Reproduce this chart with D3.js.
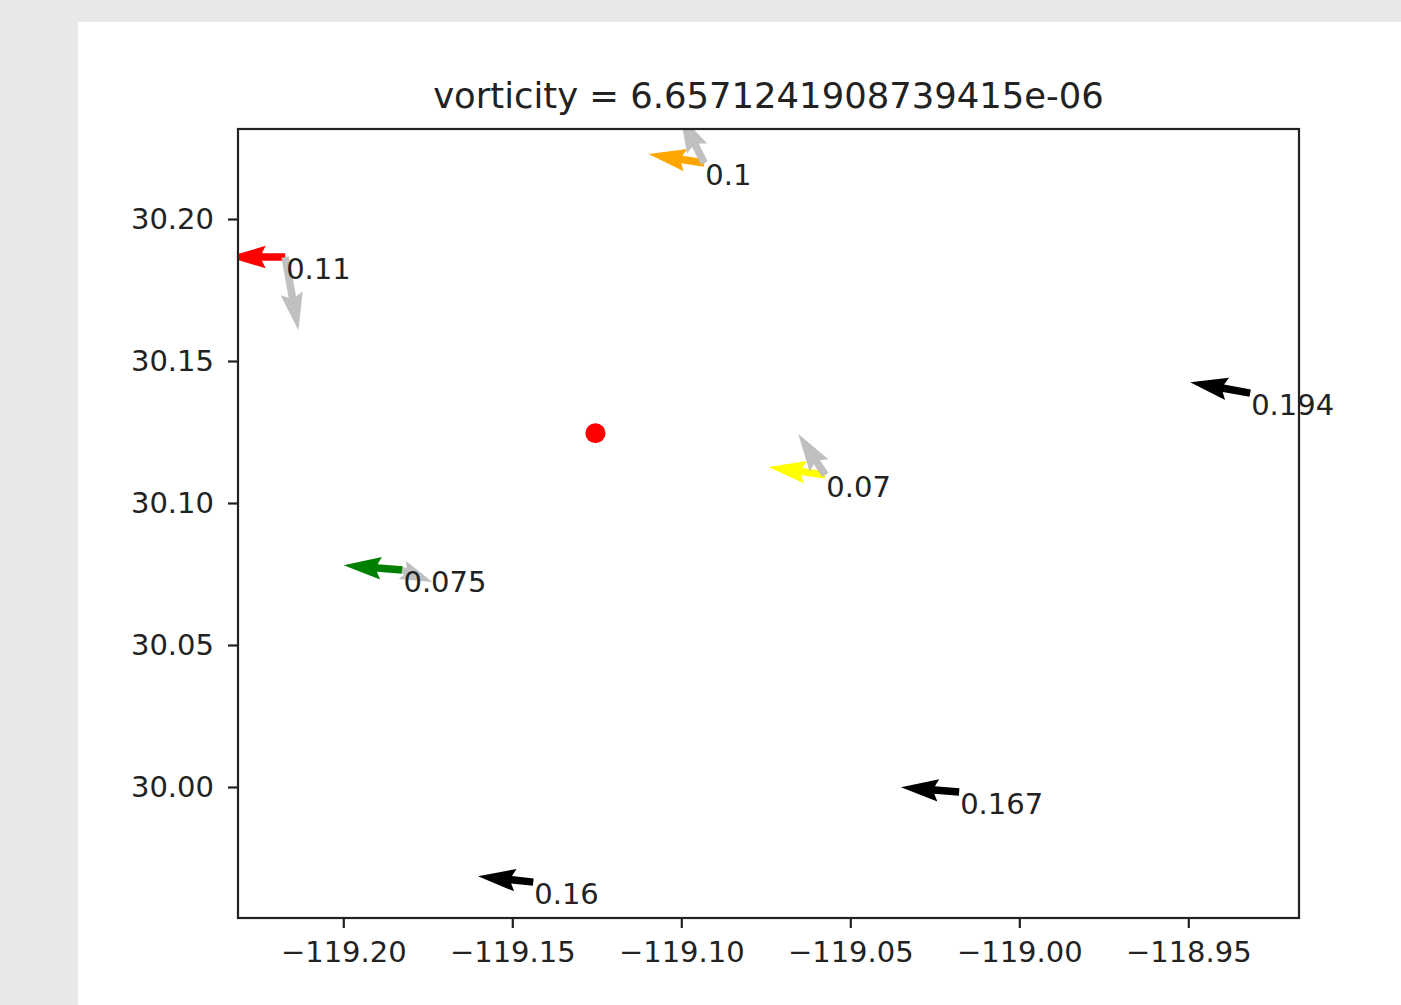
<!DOCTYPE html>
<html>
<head>
<meta charset="utf-8">
<script src="https://cdn.jsdelivr.net/npm/d3@7"></script>
<style>
  html, body { margin: 0; padding: 0; background: #e8e8e8; }
  svg { display: block; }
  text { font-family: "DejaVu Sans", sans-serif; fill: #222; }
</style>
</head>
<body>
<svg id="chart" width="1401" height="1005"></svg>
<script>
// Chart data
let titleText = "vorticity = 6.6571241908739415e-06";
let xTicks = [-119.20, -119.15, -119.10, -119.05, -119.00, -118.95];
let yTicks = [30.00, 30.05, 30.10, 30.15, 30.20];
let lon = [-118.9317, -119.0178, -119.1438, -119.0932, -119.2172, -119.0574, -119.1825];
let lat = [30.1387, 29.9982, 29.9665, 30.2197, 30.1866, 30.1099, 30.0764];
let speedLabels = [0.194, 0.167, 0.16, 0.1, 0.11, 0.07, 0.075];
let arrowColors = ["black", "black", "black", "orange", "red", "yellow", "green"];
let u = [-1.00, -0.97, -0.92, -0.93, -0.95, -0.95, -0.98];
let v = [0.18, 0.08, 0.10, 0.15, 0.00, 0.13, 0.08];
let greyU = [null, null, null, -0.40, 0.22, -0.45, 0.50];
let greyV = [null, null, null, 0.80, -1.22, 0.68, -0.20];
let centerLon = [-119.1254];
let centerLat = [30.1246];

// Layout
let margin = {left: 238, top: 129, right: 1299, bottom: 918};
let shaftW = 7.5;

let svg = d3.select("#chart");

// white figure panel
svg.append("rect")
    .attr("x", 78).attr("y", 22)
    .attr("width", 1401 - 78).attr("height", 1005 - 22)
    .attr("fill", "#fff");

let x = d3.scaleLinear().domain([-119.23115, -118.91725]).range([margin.left, margin.right]);
let y = d3.scaleLinear().domain([29.95387, 30.23169]).range([margin.bottom, margin.top]);
let arrowLen = d3.scaleLinear().domain([0, 1]).range([0, 60]);

svg.append("clipPath").attr("id", "axclip")
    .append("rect")
    .attr("x", margin.left).attr("y", margin.top)
    .attr("width", margin.right - margin.left)
    .attr("height", margin.bottom - margin.top);

// quiver-like arrow polygon, tail at origin pointing along +x
function arrowPath(L) {
    let w = shaftW, hl = 5 * w, hal = 4.5 * w, hw = 1.5 * w;
    let k = 1;
    let len = L;
    if (L < hl) { k = L / hl; len = hl; }
    let pts = [[0, -w / 2], [len - hal, -w / 2], [len - hl, -hw], [len, 0],
               [len - hl, hw], [len - hal, w / 2], [0, w / 2]];
    return "M" + pts.map(p => (p[0] * k).toFixed(2) + "," + (p[1] * k).toFixed(2)).join("L") + "Z";
}

let plot = svg.append("g").attr("clip-path", "url(#axclip)");

function drawArrow(i, uu, vv, color) {
    let L = arrowLen(Math.hypot(uu, vv));
    let ang = Math.atan2(-vv, uu) * 180 / Math.PI;
    plot.append("path")
        .attr("d", arrowPath(L))
        .attr("transform", `translate(${x(lon[i])},${y(lat[i])}) rotate(${ang})`)
        .attr("fill", color);
}

// center point
plot.selectAll(".center")
    .data(centerLon)
    .enter().append("circle")
    .attr("cx", d => x(d))
    .attr("cy", (d, i) => y(centerLat[i]))
    .attr("r", 10)
    .attr("fill", "red");

let labels = svg.append("g");
lon.forEach(function(d, i) {
    drawArrow(i, u[i], v[i], arrowColors[i]);
    if (greyU[i] !== null) drawArrow(i, greyU[i], greyV[i], "#c0c0c0");
});
lon.forEach(function(d, i) {
    labels.append("text")
        .attr("x", x(lon[i]) + 1)
        .attr("y", y(lat[i]) + 22)
        .attr("font-size", 29)
        .text(String(speedLabels[i]));
});

// axes
let fmt = d3.format(".2f");
let xAxis = svg.append("g")
    .attr("transform", `translate(0,${margin.bottom})`)
    .call(d3.axisBottom(x).tickValues(xTicks).tickFormat(fmt).tickSize(10).tickPadding(13));
let yAxis = svg.append("g")
    .attr("transform", `translate(${margin.left},0)`)
    .call(d3.axisLeft(y).tickValues(yTicks).tickFormat(fmt).tickSize(10).tickPadding(14));
[xAxis, yAxis].forEach(function(a) {
    a.select(".domain").remove();
    a.selectAll("line").attr("stroke", "#222").attr("stroke-width", 2.2);
    a.selectAll("text").attr("font-size", 29).attr("font-family", "DejaVu Sans").attr("fill", "#222");
});

// spines
svg.append("rect")
    .attr("x", margin.left).attr("y", margin.top)
    .attr("width", margin.right - margin.left)
    .attr("height", margin.bottom - margin.top)
    .attr("fill", "none")
    .attr("stroke", "#222")
    .attr("stroke-width", 2.2);

// title
svg.append("text")
    .attr("x", (margin.left + margin.right) / 2)
    .attr("y", 108)
    .attr("text-anchor", "middle")
    .attr("font-size", 35.4)
    .text(titleText);
</script>
</body>
</html>
